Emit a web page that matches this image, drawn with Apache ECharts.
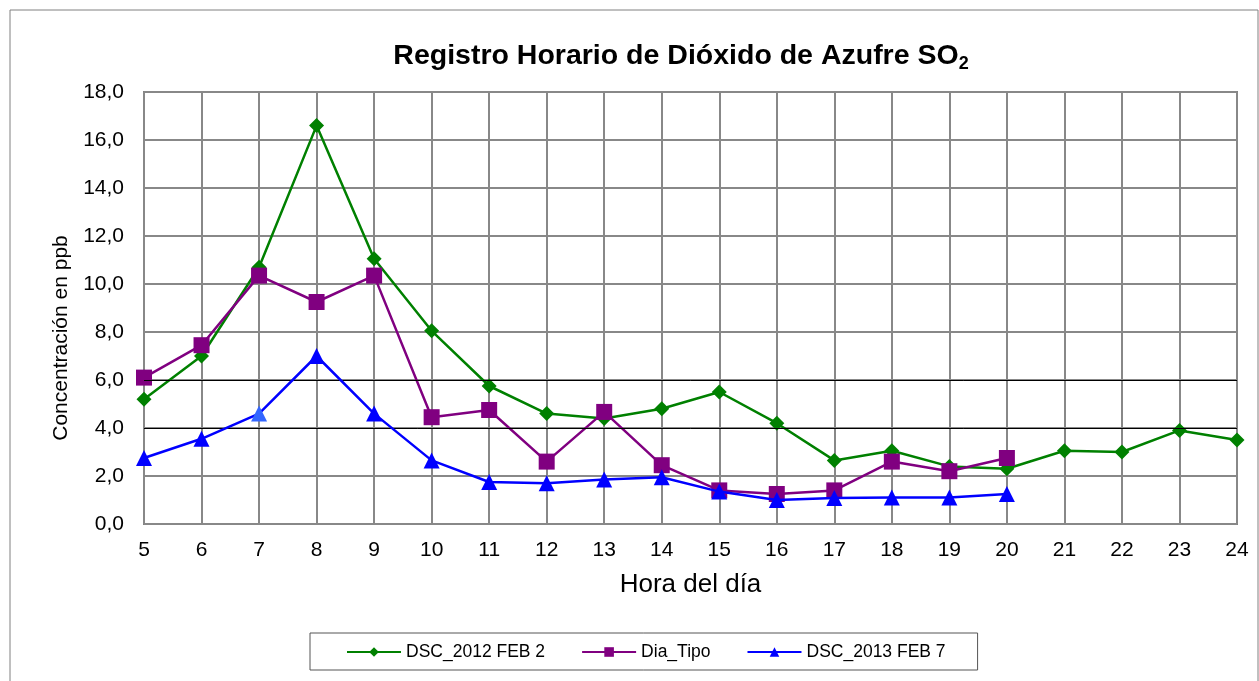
<!DOCTYPE html>
<html><head><meta charset="utf-8">
<script src="https://cdn.jsdelivr.net/npm/echarts@6/dist/echarts.min.js"></script>
<style>html,body{margin:0;padding:0;background:#fff}#c{width:1259px;height:681px}</style>
</head><body><div id="c"></div>
<script>
const hours = [5,6,7,8,9,10,11,12,13,14,15,16,17,18,19,20,21,22,23,24];
const dsc2012 = [5.2,7.0,10.7,16.6,11.05,8.05,5.75,4.6,4.4,4.8,5.5,4.2,2.65,3.05,2.4,2.3,3.05,3.0,3.9,3.5];
const diaTipo = [6.1,7.45,10.35,9.25,10.35,4.45,4.75,2.6,4.67,2.45,1.4,1.25,1.4,2.6,2.2,2.75];
const dsc2013 = [2.75,3.55,4.6,7.0,4.6,2.65,1.75,1.7,1.85,1.95,1.35,1.0,1.08,1.1,1.1,1.25];
const blackGridLevels = [4,6];

const pair = (arr) => arr.map((v,i)=>[hours[i], v]);
const chart = echarts.init(document.getElementById('c'));
const font = 'Arial, "Liberation Sans", sans-serif';
chart.setOption({
  animation:false,
  title:{
    text:'{t|Registro Horario de Dióxido de Azufre SO}{s|2}',
    left:676, top:34, textAlign:'center',
    textStyle:{rich:{
      t:{fontFamily:font,fontSize:28.5,fontWeight:'bold',color:'#000'},
      s:{fontFamily:font,fontSize:18,fontWeight:'bold',color:'#000',padding:[16,0,0,0]}
    }}
  },
  graphic:[
    {type:'rect',shape:{x:10,y:10,width:1248,height:680},style:{fill:'none',stroke:'#808080',lineWidth:1}},
    {type:'text',x:61,y:338,rotation:Math.PI/2,
     style:{text:'Concentración en ppb',font:'21px '+font,fill:'#000',textAlign:'center',textVerticalAlign:'middle'}}
  ],
  legend:{
    top:633, left:310, itemGap:36, itemWidth:54, itemHeight:12,
    padding:[10,32,9,36],
    borderColor:'#555', borderWidth:1,
    textStyle:{fontFamily:font,fontSize:17.5,color:'#000'},
    data:['DSC_2012 FEB 2','Dia_Tipo','DSC_2013 FEB 7']
  },
  grid:{left:144,right:22,top:92,bottom:157,show:true,borderColor:'#808080',borderWidth:2},
  xAxis:{
    type:'value',min:5,max:24,interval:1,
    name:'Hora del día',nameLocation:'middle',nameGap:48,
    nameTextStyle:{fontFamily:font,fontSize:26,color:'#000'},
    axisLine:{show:false},axisTick:{show:false},
    axisLabel:{fontFamily:font,fontSize:21,color:'#000',margin:16},
    splitLine:{show:true,lineStyle:{color:'#888',width:2}}
  },
  yAxis:{
    type:'value',min:0,max:18,interval:2,
    axisLine:{show:false},axisTick:{show:false},
    axisLabel:{fontFamily:font,fontSize:21,color:'#000',margin:20,formatter:v=>v.toFixed(1).replace('.',',')},
    splitLine:{show:true,lineStyle:{color:'#888',width:2}}
  },
  series:[
    {name:'DSC_2012 FEB 2',type:'line',data:pair(dsc2012),symbol:'diamond',symbolSize:15,
     itemStyle:{color:'#008000'},lineStyle:{color:'#008000',width:2.5},z:3,
     markLine:{silent:true,symbol:'none',label:{show:false},lineStyle:{color:'#000',width:1,type:'solid'},
       data:blackGridLevels.map(v=>({yAxis:v}))}},
    {name:'Dia_Tipo',type:'line',data:pair(diaTipo),symbol:'rect',symbolSize:16,
     itemStyle:{color:'#800080'},lineStyle:{color:'#800080',width:2.5},z:4},
    {name:'DSC_2013 FEB 7',type:'line',
     data:pair(dsc2013).map((p,i)=> i===2 ? {value:p,itemStyle:{color:'#3366ff'}} : p),
     symbol:'triangle',symbolSize:16,
     itemStyle:{color:'#0000ff'},lineStyle:{color:'#0000ff',width:2.5},z:5}
  ]
});
</script></body></html>
